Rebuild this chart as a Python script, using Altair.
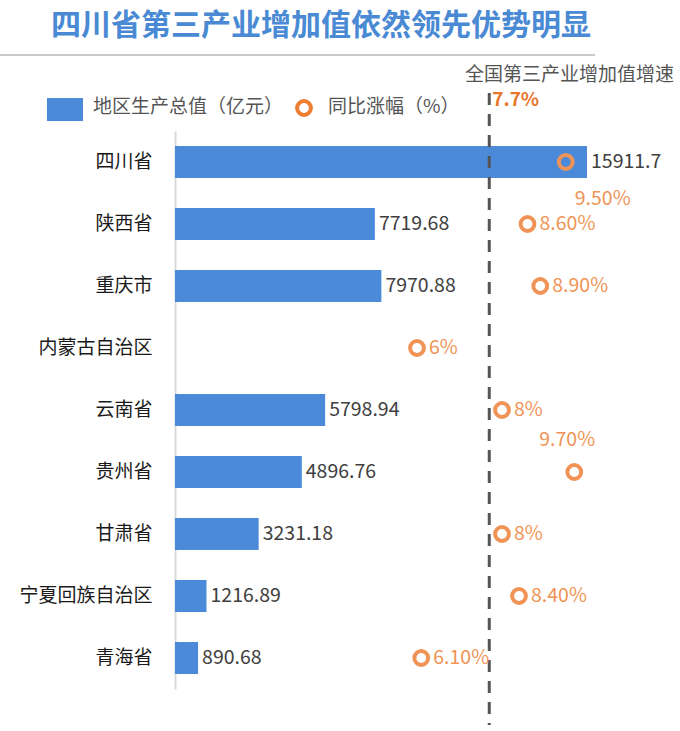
import altair as alt
import pandas as pd

# ---- data ----
regions = ["四川省", "陕西省", "重庆市", "内蒙古自治区", "云南省", "贵州省", "甘肃省", "宁夏回族自治区", "青海省"]
gdp = [15911.7, 7719.68, 7970.88, None, 5798.94, 4896.76, 3231.18, 1216.89, 890.68]
growth = [9.5, 8.6, 8.9, 6.0, 8.0, 9.7, 8.0, 8.4, 6.1]
growth_labels = ["9.50%", "8.60%", "8.90%", "6%", "8%", "9.70%", "8%", "8.40%", "6.10%"]
national_growth = [7.7]
national_labels = ["7.7%"]
national_title = "全国第三产业增加值增速"
title_text = "四川省第三产业增加值依然领先优势明显"
legend_labels = ["地区生产总值（亿元）", "同比涨幅（%）"]

FONT = "Noto Sans CJK SC"
BLUE = "#4a8ad8"
ORANGE = "#ef9456"

df = pd.DataFrame({
    "region": regions,
    "gdp": gdp,
    "gdp_label": ["" if v is None else f"{v:g}" for v in gdp],
    "growth": growth,
    "growth_label": growth_labels,
})
nat = pd.DataFrame({"v": national_growth, "label": national_labels})

W, H = 490, 558
gdp_scale = alt.Scale(domain=[0, 18925], nice=False, zero=False)
gr_scale = alt.Scale(domain=[0.306, 11.835], nice=False, zero=False)

Y = alt.Y(
    "region:N", sort=regions,
    scale=alt.Scale(paddingInner=0.484, paddingOuter=0.242),
    axis=alt.Axis(title=None, ticks=False, labelPadding=23, labelFontSize=19,
                  labelColor="#1a1a1a", labelFont=FONT,
                  domainColor="#d9d9d9", domainWidth=2),
)

base = alt.Chart(df)

bars = base.mark_bar(color=BLUE).encode(
    x=alt.X("gdp:Q", scale=gdp_scale, axis=None), y=Y)

bar_text = base.mark_text(align="left", baseline="middle", dx=4, fontSize=19.5,
                          font=FONT, color="#404040").encode(
    x=alt.X("gdp:Q", scale=gdp_scale, axis=None), y=Y, text="gdp_label:N")

rule = alt.Chart(nat).mark_rule(color="#555555", strokeWidth=3, strokeDash=[12, 9]).encode(
    x=alt.X("v:Q", scale=gr_scale, axis=None), y=alt.value(-38), y2=alt.value(594))

nat_text = alt.Chart(nat).mark_text(align="left", baseline="middle", dx=3, fontSize=19,
                                    fontWeight="bold", font=FONT, color="#e8762b").encode(
    x=alt.X("v:Q", scale=gr_scale, axis=None), y=alt.value(-31), text="label:N")

points = base.mark_point(shape="circle", filled=False, strokeWidth=4, size=190,
                         color=ORANGE, opacity=1).encode(
    x=alt.X("growth:Q", scale=gr_scale, axis=None), y=Y)

special = ["四川省", "贵州省"]
gr_text = base.transform_filter(
    ~alt.FieldOneOfPredicate(field="region", oneOf=special)
).mark_text(align="left", baseline="middle", dx=12, fontSize=19.5, font=FONT,
            color=ORANGE).encode(
    x=alt.X("growth:Q", scale=gr_scale, axis=None), y=Y, text="growth_label:N")

gr_text_sc = base.transform_filter(
    alt.FieldEqualPredicate(field="region", equal="四川省")
).mark_text(align="left", baseline="middle", dx=9, dy=37, fontSize=19.5, font=FONT,
            color=ORANGE).encode(
    x=alt.X("growth:Q", scale=gr_scale, axis=None), y=Y, text="growth_label:N")

gr_text_gz = base.transform_filter(
    alt.FieldEqualPredicate(field="region", equal="贵州省")
).mark_text(align="left", baseline="middle", dx=-35, dy=-32, fontSize=19.5, font=FONT,
            color=ORANGE).encode(
    x=alt.X("growth:Q", scale=gr_scale, axis=None), y=Y, text="growth_label:N")

# ---- title, separator, legend ----
title = alt.Chart(pd.DataFrame({"t": [title_text]})).mark_text(
    align="left", baseline="middle", fontSize=30, fontWeight="bold", font=FONT,
    color="#4a8ad4").encode(x=alt.value(-124), y=alt.value(-105), text="t:N")

sep = alt.Chart(pd.DataFrame({"a": [0]})).mark_rule(color="#c8c8c8", strokeWidth=2).encode(
    x=alt.value(-175), x2=alt.value(420), y=alt.value(-76))

nat_title = alt.Chart(pd.DataFrame({"t": [national_title]})).mark_text(
    align="left", baseline="middle", fontSize=19, font=FONT, color="#555555").encode(
    x=alt.value(290), y=alt.value(-56), text="t:N")

leg_sq = alt.Chart(pd.DataFrame({"a": [0]})).mark_rect(color=BLUE).encode(
    x=alt.value(-128), x2=alt.value(-92), y=alt.value(-33), y2=alt.value(-10))

leg_t1 = alt.Chart(pd.DataFrame({"t": [legend_labels[0]]})).mark_text(
    align="left", baseline="middle", fontSize=19, font=FONT, color="#555555").encode(
    x=alt.value(-82), y=alt.value(-24), text="t:N")

leg_c = alt.Chart(pd.DataFrame({"a": [0]})).mark_point(
    shape="circle", filled=False, strokeWidth=4, size=190, color="#ed7d31", opacity=1).encode(
    x=alt.value(129), y=alt.value(-23))

leg_t2 = alt.Chart(pd.DataFrame({"t": [legend_labels[1]]})).mark_text(
    align="left", baseline="middle", fontSize=19, font=FONT, color="#555555").encode(
    x=alt.value(153), y=alt.value(-24), text="t:N")

chart = alt.layer(
    bars, bar_text, rule, nat_text, points, gr_text, gr_text_sc, gr_text_gz,
    title, sep, nat_title, leg_sq, leg_t1, leg_c, leg_t2,
).resolve_scale(x="independent").properties(
    width=W, height=H,
    autosize=alt.AutoSizeParams(type="none"),
    padding={"left": 175, "top": 131, "right": 15, "bottom": 42},
    background="white",
).configure_view(stroke=None)

chart.save("out.html", embed_options={"renderer": "svg", "actions": False})
